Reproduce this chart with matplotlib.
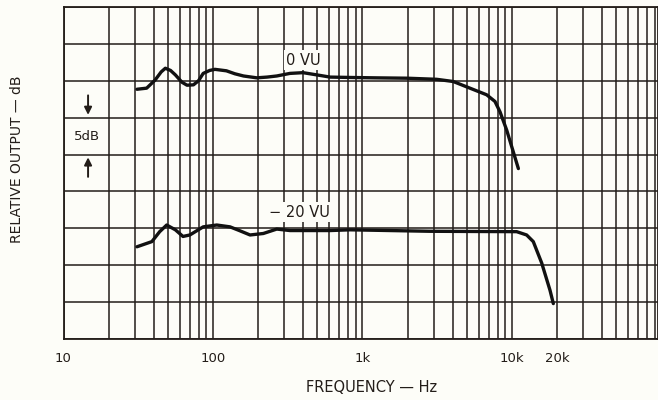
import matplotlib.pyplot as plt
import numpy as np

# Frequency response (Hz, dB re 0 VU flat level)
freq_0vu = [31, 36, 41, 45, 48, 52, 56, 62, 67, 74, 80, 86, 95, 103, 123, 140, 160,
            196, 230, 267, 327, 400, 494, 607, 825, 1200, 1977, 3135, 4047, 5230,
            6770, 7690, 8310, 9220, 11030]
db_0vu = [-1.15, -1.0, 0.1, 1.2, 1.7, 1.4, 0.8, -0.2, -0.6, -0.55, 0.0, 1.0, 1.4,
          1.55, 1.35, 0.95, 0.65, 0.4, 0.5, 0.65, 1.0, 1.1, 0.8, 0.5, 0.45, 0.4,
          0.35, 0.2, -0.1, -1.0, -1.9, -2.8, -4.2, -6.7, -11.9]

freq_20vu = [31, 39, 44, 49, 56, 63, 70, 86, 106, 130, 150, 177, 217, 267, 327,
             607, 825, 2830, 10740, 12530, 13880, 15800, 17960, 18900]
db_20vu = [-22.5, -21.8, -20.45, -19.55, -20.2, -21.1, -20.9, -19.8, -19.55,
           -19.8, -20.3, -20.9, -20.7, -20.1, -20.3, -20.3, -20.2, -20.4, -20.45,
           -20.9, -21.8, -24.7, -28.4, -30.2]

decades = [10, 100, 1000, 10000]
grid_freqs = [m * d for d in decades for m in range(1, 10)]
tick_freqs = [10, 100, 1000, 10000, 20000]
tick_labels = ['10', '100', '1k', '10k', '20k']
db_lines = list(range(-35, 11, 5))

ink = '#231d19'
paper = '#fdfdf8'

fig = plt.figure(figsize=(6.58, 4.0), dpi=100, facecolor=paper)
ax = fig.add_axes([63.5 / 658, 61 / 400, 1 - 63.5 / 658, 332 / 400])
ax.set_facecolor(paper)
ax.set_xscale('log')
ax.set_xlim(10, 10 ** (1 + 594.5 / 149.5))
ax.set_ylim(-35, 10)

# graph-paper grid
for f in grid_freqs:
    ax.axvline(f, color=ink, lw=1.1, zorder=1)
for d in db_lines:
    ax.axhline(d, color=ink, lw=1.1, zorder=1)

ax.plot(freq_0vu, db_0vu, color='#111111', lw=2.4, solid_capstyle='round', zorder=3)
ax.plot(freq_20vu, db_20vu, color='#111111', lw=2.4, solid_capstyle='round', zorder=3)

ax.text(400, 2.8, '0 VU', ha='center', va='center', fontsize=10.5, color=ink,
        bbox=dict(boxstyle='square,pad=0.15', fc=paper, ec='none'), zorder=4)
ax.text(380, -17.8, '\u2212 20 VU', ha='center', va='center', fontsize=10.5, color=ink,
        bbox=dict(boxstyle='square,pad=0.15', fc=paper, ec='none'), zorder=4)

# 5 dB scale marker
ax.text(14.4, -7.5, '5dB', ha='center', va='center', fontsize=9.5, color=ink, zorder=4)
ax.annotate('', xy=(14.6, -5), xytext=(14.6, -1.6),
            arrowprops=dict(arrowstyle='-|>', color=ink, lw=1.4, mutation_scale=11), zorder=4)
ax.annotate('', xy=(14.6, -10), xytext=(14.6, -13.4),
            arrowprops=dict(arrowstyle='-|>', color=ink, lw=1.4, mutation_scale=11), zorder=4)

ax.set_xticks(tick_freqs)
ax.set_xticklabels(tick_labels)
ax.xaxis.set_minor_locator(plt.NullLocator())
ax.set_yticks([])
ax.tick_params(axis='x', length=0, pad=9, labelsize=9.5, colors=ink)
for s in ax.spines.values():
    s.set_color(ink)
    s.set_linewidth(1.3)

fig.text(372 / 658, 1 - 388 / 400, 'FREQUENCY \u2014 Hz', ha='center', va='center',
         fontsize=10.5, color=ink)
fig.text(17 / 658, 1 - 159 / 400, 'RELATIVE OUTPUT \u2014 dB', ha='center', va='center',
         rotation=90, fontsize=10, color=ink)

fig.savefig('out.png', dpi=100, facecolor=paper)
